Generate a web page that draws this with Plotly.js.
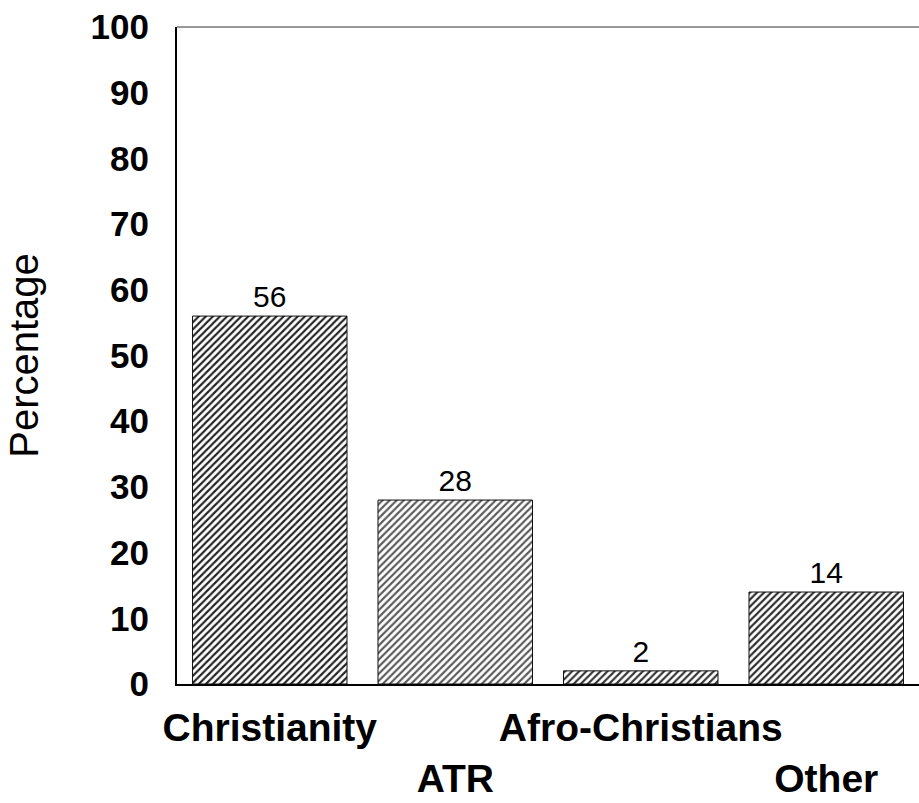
<!DOCTYPE html>
<html>
<head>
<meta charset="utf-8">
<script src="https://cdn.plot.ly/plotly-3.0.1.min.js"></script>
<style>html,body{margin:0;padding:0;background:#fff;}#chart{width:919px;height:803px;}</style>
</head>
<body>
<div id="chart"></div>
<script>
var categories = ["Christianity", "ATR", "Afro-Christians", "Other"];
var tickLabels = ["Christianity", "<br>ATR", "Afro-Christians", "<br>Other"];
var percentages = [56, 28, 2, 14];
var yTicks = [0, 10, 20, 30, 40, 50, 60, 70, 80, 90, 100];

var trace = {
  type: "bar",
  x: categories,
  y: percentages,
  text: percentages.map(String),
  textposition: "outside",
  cliponaxis: false,
  textfont: {family: "Liberation Sans, Arial, sans-serif", size: 30, color: "#000"},
  marker: {
    color: "#fff",
    line: {color: "#111", width: 1},
    pattern: {shape: "/", size: 5, solidity: 0.42, fgcolor: ["#222", "#5a5a5a", "#333", "#2a2a2a"], bgcolor: "#fff"}
  },
  hoverinfo: "none"
};

var layout = {
  width: 919,
  height: 803,
  margin: {l: 177, r: 0, t: 27, b: 119},
  paper_bgcolor: "#fff",
  plot_bgcolor: "#fff",
  showlegend: false,
  bargap: 0.167,
  font: {family: "Liberation Sans, Arial, sans-serif", color: "#000"},
  xaxis: {
    type: "category",
    range: [-0.5, 3.5],
    tickvals: categories,
    ticktext: tickLabels,
    tickangle: 0,
    showline: true,
    linecolor: "#000",
    linewidth: 2,
    ticks: "",
    showgrid: false,
    tickfont: {family: "Liberation Sans, Arial, sans-serif", size: 39, color: "#000", weight: "bold"},
    ticklabelstandoff: 8
  },
  yaxis: {
    range: [0, 100],
    tickvals: yTicks,
    ticktext: yTicks.map(String),
    showline: true,
    linecolor: "#000",
    linewidth: 2,
    ticks: "",
    showgrid: false,
    zeroline: false,
    tickfont: {family: "Liberation Sans, Arial, sans-serif", size: 35, color: "#000", weight: "bold"},
    ticklabelstandoff: 19,
    title: {text: "Percentage", font: {family: "Liberation Sans, Arial, sans-serif", size: 40, color: "#000"}, standoff: 40}
  },
  shapes: [{
    type: "line", xref: "paper", yref: "paper", x0: 0, x1: 1, y0: 1, y1: 1,
    line: {color: "#333", width: 1}
  }]
};

Plotly.newPlot("chart", [trace], layout, {staticPlot: true, displayModeBar: false});
</script>
</body>
</html>
